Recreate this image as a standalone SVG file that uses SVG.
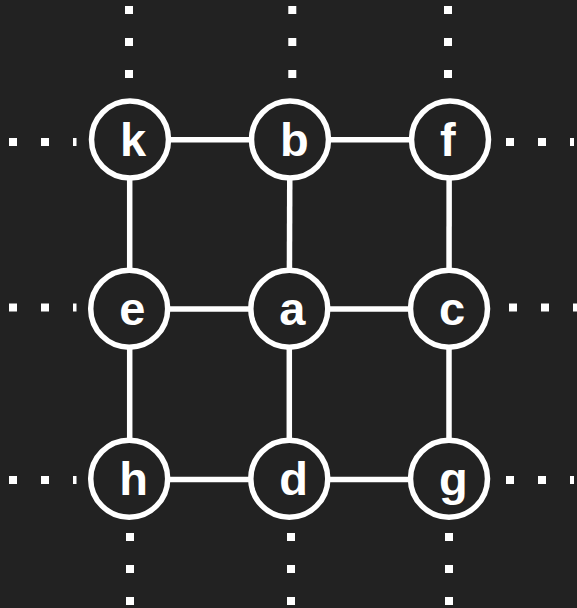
<svg xmlns="http://www.w3.org/2000/svg" width="577" height="608" viewBox="0 0 577 608">
  <style>
    .edge { stroke: #ffffff; stroke-width: 5.5; fill: none; }
    .dots { stroke: #ffffff; stroke-width: 8; stroke-dasharray: 8 24; stroke-linecap: butt; fill: none; }
    .node circle { fill: #222222; stroke: #ffffff; stroke-width: 5.5; }
    .node text { fill: #ffffff; font-family: "Liberation Sans", Arial, sans-serif; font-weight: bold; font-size: 47px; }
  </style>
  <rect width="577" height="608" fill="#222222"/>

  <!-- dotted continuation of the grid beyond the border -->
  <g id="grid-continuation">
    <path class="dots" d="M129 6V78M292.3 6V78M448 6V78"/>
    <path class="dots" d="M130 533V605M291 533V605M449 533V605"/>
    <path class="dots" d="M9 142H76.5M9 307.5H76.5M9 480H76.5"/>
    <path class="dots" d="M506 142H574M509 307.5H577M506 480H574"/>
  </g>

  <!-- connectors -->
  <g id="connectors">
    <line class="edge" x1="130" y1="139.7" x2="290" y2="139.7"/>
    <line class="edge" x1="290" y1="139.7" x2="450" y2="139.7"/>
    <line class="edge" x1="129.2" y1="309" x2="289.3" y2="309"/>
    <line class="edge" x1="289.3" y1="309" x2="449" y2="309"/>
    <line class="edge" x1="129.2" y1="479.5" x2="289.3" y2="479.5"/>
    <line class="edge" x1="289.3" y1="479.5" x2="449" y2="479.5"/>
    <line class="edge" x1="129.7" y1="139.5" x2="129.7" y2="308.7"/>
    <line class="edge" x1="129.7" y1="308.7" x2="129.7" y2="478.7"/>
    <line class="edge" x1="289.9" y1="139.5" x2="289.3" y2="308.7"/>
    <line class="edge" x1="289.3" y1="308.7" x2="289.3" y2="478.7"/>
    <line class="edge" x1="449.2" y1="139.5" x2="449" y2="308.7"/>
    <line class="edge" x1="449" y1="308.7" x2="449" y2="478.7"/>
  </g>

  <!-- nodes -->
  <g id="node-k" class="node"><circle cx="130" cy="139.5" r="38.5"/><text x="120" y="156">k</text></g>
  <g id="node-b" class="node"><circle cx="290" cy="139.5" r="38.5"/><text x="280" y="156">b</text></g>
  <g id="node-f" class="node"><circle cx="450" cy="139.5" r="38.5"/><text x="440" y="156">f</text></g>
  <g id="node-e" class="node"><circle cx="129.2" cy="308.7" r="38.5"/><text x="119.2" y="325.2">e</text></g>
  <g id="node-a" class="node"><circle cx="289.3" cy="308.7" r="38.5"/><text x="279.3" y="325.2">a</text></g>
  <g id="node-c" class="node"><circle cx="449" cy="308.7" r="38.5"/><text x="439" y="325.2">c</text></g>
  <g id="node-h" class="node"><circle cx="129.2" cy="478.7" r="38.5"/><text x="119.2" y="495.2">h</text></g>
  <g id="node-d" class="node"><circle cx="289.3" cy="478.7" r="38.5"/><text x="279.3" y="495.2">d</text></g>
  <g id="node-g" class="node"><circle cx="449" cy="478.7" r="38.5"/><text x="439" y="495.2">g</text></g>
</svg>
